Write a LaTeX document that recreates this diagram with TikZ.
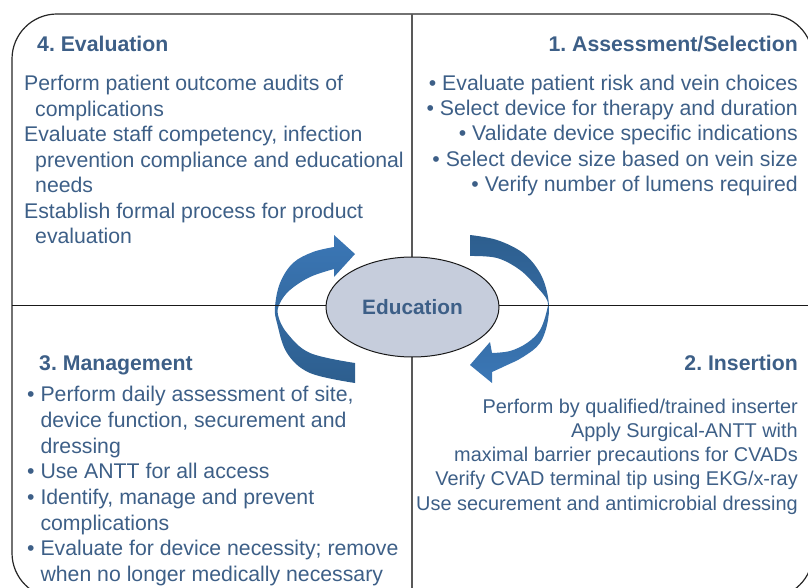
\documentclass[tikz,border=0pt]{standalone}
\usepackage{fontspec}
\setmainfont{Liberation Sans}
\usetikzlibrary{shapes.geometric}
\definecolor{txt}{HTML}{3D5F87}
\definecolor{edufill}{HTML}{C6CDDC}
\definecolor{arrlight}{HTML}{3B77B6}
\definecolor{arrdark}{HTML}{2D5E8E}
\frenchspacing
\begin{document}
\begin{tikzpicture}[x=1pt,y=-1pt,
  body/.style={inner sep=0pt, text=txt, font=\fontsize{21.25}{25.5}\selectfont},
  smallbody/.style={inner sep=0pt, text=txt, font=\fontsize{19.9}{24.2}\selectfont},
  head/.style={inner sep=0pt, text=txt, font=\fontsize{21.25}{25.5}\selectfont\bfseries},
  frameline/.style={draw=black!85, line width=1.2pt},
  vdiv/.style={draw=black!65, line width=1.8pt},
  hdiv/.style={draw=black!90, line width=1pt},
  cyclearrow/.style={draw=none},
]
\useasboundingbox (0,0) rectangle (808,588);
\begin{scope}
\clip (0,0) rectangle (808,588);
% frame
\draw[frameline, rounded corners=45pt] (12,14) rectangle (813,598);
% left circular arrow
\shade[cyclearrow, top color=arrlight, bottom color=arrdark]
  plot[smooth, tension=0.6] coordinates {(355,383) (310,373) (287,353) (277,323) (275,307) (280,283) (293,263) (313,252) (334,247)}
  -- (334,235) -- (355,254) -- (334,277)
  -- plot[smooth, tension=0.6] coordinates {(334,269) (310,277) (290,290) (280,303) (278,315) (287,333) (310,353) (355,363)}
  -- cycle;
% right circular arrow
\shade[cyclearrow, top color=arrdark, bottom color=arrlight]
  plot[smooth, tension=0.6] coordinates {(470,235) (497,240) (523,253) (540,273) (548,297) (548,320) (540,343) (523,357) (505,366) (492,372)}
  -- (492,383) -- (470,365) -- (490,342)
  -- plot[smooth, tension=0.6] coordinates {(492,353) (510,351) (527,343) (540,330) (547,310) (547,300) (537,287) (520,270) (497,258) (470,256)}
  -- cycle;
% dividers
\coordinate (vt) at (412,14);
\coordinate (vb) at (412,598);
\coordinate (hl) at (12,305);
\coordinate (hr) at (813,305);
\draw[vdiv] (vt) -- (vb);
\draw[hdiv] (hl) -- (hr);
\end{scope}
% centre
\node[ellipse, draw=black!90, line width=1pt, fill=edufill, minimum width=173pt, minimum height=100pt, inner sep=0pt, text=txt, font=\fontsize{20.8}{25}\selectfont\bfseries] (edu) at (412.5,307) {Education};
% quadrant 4 (base anchor = baseline of last line)
\node[head, anchor=base west] (h4) at (37,52) {4. Evaluation};
\node[body, anchor=base west, align=left] (b4) at (24,243.7) {Perform patient outcome audits of\\\hspace*{11pt}complications\\Evaluate staff competency, infection\\\hspace*{11pt}prevention compliance and educational\\\hspace*{11pt}needs\\Establish formal process for product\\\hspace*{11pt}evaluation};
% quadrant 1
\node[head, anchor=base east] (h1) at (798,52) {1. Assessment/Selection};
\node[body, anchor=base east, align=right, font=\fontsize{21.25}{25.4}\selectfont] (b1) at (798,191.6) {• Evaluate patient risk and vein choices\\• Select device for therapy and duration\\• Validate device specific indications\\• Select device size based on vein size\\• Verify number of lumens required};
% quadrant 3
\node[head, anchor=base west] (h3) at (39,370.7) {3. Management};
\node[body, anchor=base west, align=left, font=\fontsize{21.25}{25.7}\selectfont] (b3) at (27,581.6) {• Perform daily assessment of site,\\\phantom{• }device function, securement and\\\phantom{• }dressing\\• Use ANTT for all access\\• Identify, manage and prevent\\\phantom{• }complications\\• Evaluate for device necessity; remove\\\phantom{• }when no longer medically necessary};
% quadrant 2
\node[head, anchor=base east] (h2) at (798,370.7) {2. Insertion};
\node[smallbody, anchor=base east, align=right] (b2) at (798,510.1) {Perform by qualified/trained inserter\\Apply Surgical-ANTT with\\maximal barrier precautions for CVADs\\Verify CVAD terminal tip using EKG/x-ray\\Use securement and antimicrobial dressing};
\end{tikzpicture}
\end{document}
